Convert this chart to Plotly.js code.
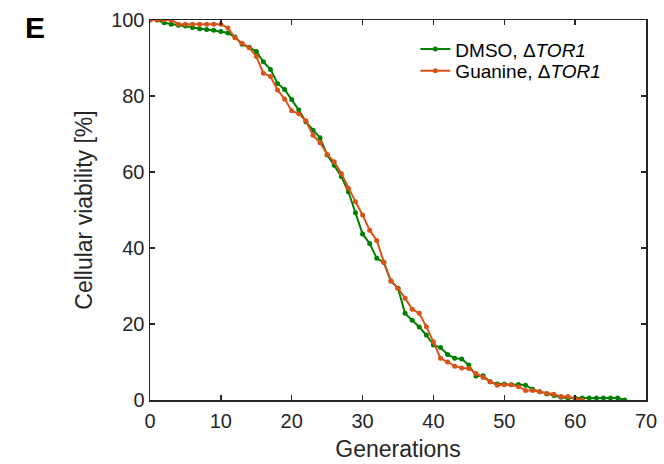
<!DOCTYPE html>
<html>
<head>
<meta charset="utf-8">
<script src="https://cdn.plot.ly/plotly-3.0.1.min.js"></script>
<style>html,body{margin:0;padding:0;background:#fff;}#chart{width:664px;height:464px;}</style>
</head>
<body>
<div id="chart"></div>
<script>
// Generations (x) and cellular viability [%] (y)
const dmsoGen = [0,1,2,3,4,5,6,7,8,9,10,11,12,13,14,15,16,17,18,19,20,21,22,23,24,25,26,27,28,29,30,31,32,33,34,35,36,37,38,39,40,41,42,43,44,45,46,47,48,49,50,51,52,53,54,55,56,57,58,59,60,61,62,63,64,65,66,67];
const dmsoViab = [100,100,99.3,98.9,98.6,98.4,98,97.7,97.5,97.3,97,96.6,95.5,93.6,92.8,91.7,89,87,83.3,81.7,79.1,76.3,73.2,71,69,64.5,61.8,58.8,54.8,49.3,43.7,41.2,37.3,36.2,31.3,29.4,22.8,21,19.2,17.1,14.5,13.8,12,11,10.8,9.2,6.3,6.4,4.8,4.2,4.2,4,4.1,3.9,2.8,2.2,1.6,1.2,0.7,0.5,0.5,0.5,0.5,0.5,0.5,0.5,0.5,0];
const guanGen = [0,1,2,3,4,5,6,7,8,9,10,11,12,13,14,15,16,17,18,19,20,21,22,23,24,25,26,27,28,29,30,31,32,33,34,35,36,37,38,39,40,41,42,43,44,45,46,47,48,49,50,51,52,53,54,55,56,57,58,59,60,61];
const guanViab = [100,100,100,100,98.9,98.9,98.9,98.9,98.9,98.9,98.9,97.9,95.3,93.9,92.7,90.4,86,85.1,81.6,79.2,76.1,75.3,73.5,69.7,67.7,64.7,62.7,59.6,55.7,52.2,48.7,44.7,42,36.3,31.3,29.4,26.8,23.9,22.8,19.3,15.3,11,10,8.9,8.4,8.3,7,5.9,4.8,3.9,4,4,3.5,2.5,2.5,2.2,1.7,1.5,0.9,0.9,0.3,0];
const seriesNames = ["DMSO, \u0394<i>TOR1</i>", "Guanine, \u0394<i>TOR1</i>"];
const xTicks = [0,10,20,30,40,50,60,70];
const yTicks = [0,20,40,60,80,100];

const green = '#008000';
const orange = '#D95319';
const axisColor = '#262626';
const font = 'Arial, "Liberation Sans", Helvetica, sans-serif';

const traces = [
  {x: dmsoGen, y: dmsoViab, name: seriesNames[0], type: 'scatter', mode: 'lines+markers',
   line: {color: green, width: 2}, marker: {color: green, size: 5}, legend: 'legend'},
  {x: guanGen, y: guanViab, name: seriesNames[1], type: 'scatter', mode: 'lines+markers',
   line: {color: orange, width: 2}, marker: {color: orange, size: 5}, legend: 'legend2'}
];

const axisCommon = {
  showgrid: false, zeroline: false, showline: true, mirror: 'ticks',
  linecolor: axisColor, linewidth: 1.5, ticks: 'inside', ticklen: 5, tickwidth: 1.5,
  tickcolor: axisColor, tickfont: {family: font, size: 20, color: axisColor}
};

const legendCommon = {xanchor: 'left', yanchor: 'middle', bgcolor: 'rgba(0,0,0,0)',
  font: {family: font, size: 19, color: '#000'}, itemwidth: 30};

const layout = {
  width: 664, height: 464,
  margin: {l: 150, r: 18, t: 20, b: 64},
  paper_bgcolor: '#fff', plot_bgcolor: '#fff',
  font: {family: font, color: axisColor},
  showlegend: true,
  legend: Object.assign({}, legendCommon, {x: 0.535, y: 0.923}),
  legend2: Object.assign({}, legendCommon, {x: 0.535, y: 0.866}),
  xaxis: Object.assign({}, axisCommon, {range: [0, 70], tickvals: xTicks, ticktext: xTicks.map(String),
          ticklabelstandoff: 2,
          title: {text: 'Generations', font: {family: font, size: 23, color: axisColor}, standoff: 10}}),
  yaxis: Object.assign({}, axisCommon, {range: [0, 100], tickvals: yTicks, ticktext: yTicks.map(String),
          title: {text: 'Cellular viability [%]', font: {family: font, size: 23, color: axisColor}, standoff: 12}}),
  annotations: [{text: '<b>E</b>', xref: 'paper', yref: 'paper', x: -0.232, y: 0.98,
                 xanchor: 'center', yanchor: 'middle', showarrow: false,
                 font: {family: font, size: 30, color: '#000'}}]
};

Plotly.newPlot('chart', traces, layout, {staticPlot: true, displayModeBar: false});
</script>
</body>
</html>
